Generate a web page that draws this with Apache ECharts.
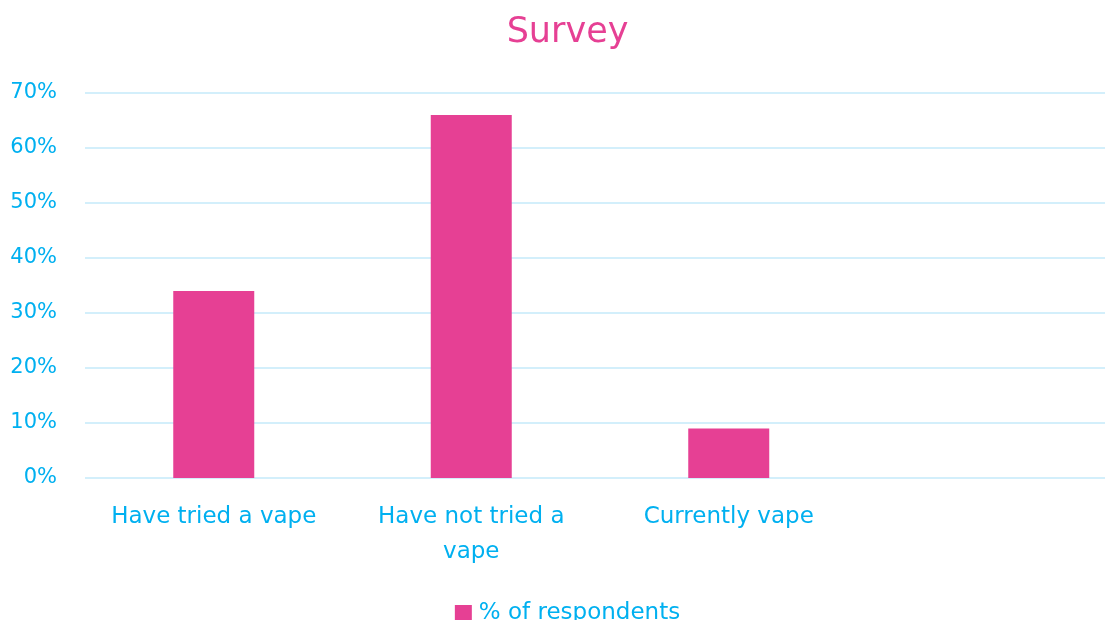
<!DOCTYPE html>
<html>
<head>
<meta charset="utf-8">
<script src="https://cdn.jsdelivr.net/npm/echarts@6/dist/echarts.min.js"></script>
<style>html,body{margin:0;padding:0;background:#fff;overflow:hidden}#c{width:1135px;height:620px}</style>
</head>
<body>
<div id="c"></div>
<script>
const titleText = 'Survey';
const categories = ['Have tried a vape', 'Have not tried a\nvape', 'Currently vape', ''];
const seriesName = '% of respondents';
const values = [34, 66, 9, null];
const yTicks = { min: 0, max: 70, interval: 10 };

const FONT = "'DejaVu Sans', sans-serif";
const BLUE = '#00B0F0';
const PINK = '#E64094';
const chart = echarts.init(document.getElementById('c'), null, { renderer: 'canvas' });
chart.setOption({
  animation: false,
  backgroundColor: '#fff',
  title: {
    text: titleText, left: 'center', top: 10,
    textStyle: { color: PINK, fontFamily: FONT, fontSize: 35, fontWeight: 'normal' }
  },
  legend: {
    data: [seriesName], top: 597, left: 'center',
    icon: 'rect', itemWidth: 17, itemHeight: 17, itemGap: 10,
    textStyle: { color: BLUE, fontFamily: FONT, fontSize: 23, padding: [0, 0, 0, 2] }
  },
  grid: { left: 85, top: 93, right: 20, height: 385, containLabel: false },
  xAxis: {
    type: 'category', data: categories,
    axisLine: { show: false }, axisTick: { show: false },
    axisLabel: { color: BLUE, fontFamily: FONT, fontSize: 23, margin: 22, lineHeight: 35, interval: 0 }
  },
  yAxis: {
    type: 'value', min: yTicks.min, max: yTicks.max, interval: yTicks.interval,
    axisLine: { show: false }, axisTick: { show: false },
    axisLabel: { color: BLUE, fontFamily: FONT, fontSize: 21, margin: 28, padding: [4, 0, 0, 0], formatter: '{value}%' },
    splitLine: { lineStyle: { color: '#C5EAFA', width: 1.5 } }
  },
  series: [{
    name: seriesName, type: 'bar', data: values, barWidth: 81,
    itemStyle: { color: PINK }
  }]
});
</script>
</body>
</html>
